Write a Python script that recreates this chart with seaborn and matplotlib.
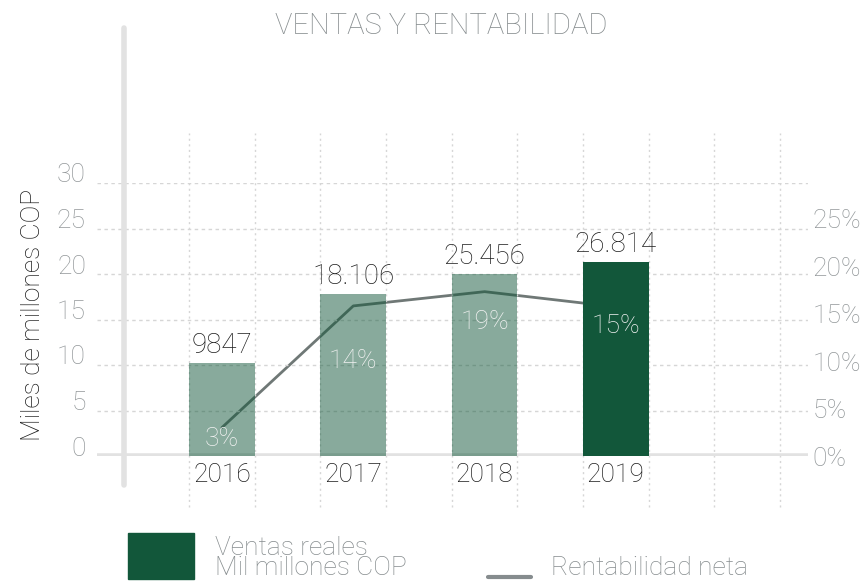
import matplotlib
matplotlib.use("Agg")
import matplotlib.pyplot as plt
import matplotlib.transforms as mtransforms
from matplotlib.patches import Rectangle
from matplotlib.lines import Line2D
import seaborn as sns
import pandas as pd

# ---- data ----
years = ["2016", "2017", "2018", "2019"]
sales_bar_height = [10.2, 17.8, 20.0, 21.3]          # bar heights as drawn (left axis)
sales_labels = ["9847", "18.106", "25.456", "26.814"]
profit_pct = [3.0, 15.8, 17.3, 15.7]                 # line values (right axis, %)
profit_labels = ["3%", "14%", "19%", "15%"]
left_ticks = [0, 5, 10, 15, 20, 25, 30]
right_ticks = [0, 5, 10, 15, 20, 25]

sns.set_style("white")
plt.rcParams["font.family"] = ["Roboto", "DejaVu Sans"]
plt.rcParams["font.weight"] = "light"

DARK = "#12573a"
GRAY_TXT = "#868c8e"
TICK_GRAY = "#929799"
GRID = "#d6d6d6"
AXLINE = "#e2e2e2"
TXT = "#1e1e1e"
FS = 19

W, H = 867, 581
fig = plt.figure(figsize=(W / 100, H / 100), dpi=100)
ax = fig.add_axes([97 / W, 1 - 456 / H, 711 / W, 273 / H])
ax2 = ax.twinx()
ax.set_zorder(ax2.get_zorder() + 1)
ax.patch.set_visible(False)

df = pd.DataFrame({"year": years, "sales": sales_bar_height})
sns.barplot(data=df, x="year", y="sales", hue="year", palette=[DARK] * 4,
            width=0.5, saturation=1, legend=False, ax=ax, zorder=3)
alphas = [0.5, 0.5, 0.5, 1.0]
for p, a in zip(ax.patches, alphas):
    p.set_alpha(a)
    p.set_edgecolor("none")

xpos = list(range(len(years)))
sns.lineplot(x=xpos, y=profit_pct, ax=ax2, color="#6f7876", linewidth=2, sort=False)

ax.set_xlim(-0.952, 4.463)
ax.set_ylim(0, 30)
ax2.set_ylim(0, 28.74)

# grid
ax.set_yticks(left_ticks)
ax.yaxis.grid(True, linestyle=(0, (2.5, 2.5)), color=GRID, linewidth=1, zorder=0)
vx = [-0.25 + 0.5 * k for k in range(10)]
ax.vlines(vx, -5.6, 35.5, colors=GRID, linestyles=(0, (1.5, 2.5)), linewidth=1,
          clip_on=False, zorder=0)
ax.axhline(0, color=AXLINE, linewidth=4, zorder=2)

for s in ax.spines.values():
    s.set_visible(False)
for s in ax2.spines.values():
    s.set_visible(False)

ax.set_xlabel("")
ax.set_ylabel("")
ax2.set_ylabel("")
ax.tick_params(axis="y", length=0, pad=8, labelsize=FS, labelcolor=TICK_GRAY)
ax.tick_params(axis="x", length=0, pad=5, labelsize=FS, labelcolor=TXT)
off = mtransforms.ScaledTranslation(0, 0.10, fig.dpi_scale_trans)
for lab in ax.get_yticklabels():
    lab.set_transform(lab.get_transform() + off)

ax2.set_yticks(right_ticks)
ax2.set_yticklabels([f"{t}%" for t in right_ticks])
ax2.tick_params(axis="y", length=0, pad=3, labelsize=FS, labelcolor=TICK_GRAY)

# value labels above bars
for i, (h, t) in enumerate(zip(sales_bar_height, sales_labels)):
    ax.annotate(t, (i, h), xytext=(0, 3), textcoords="offset points",
                ha="center", va="bottom", fontsize=20, color=TXT, zorder=5)

# percentage labels inside bars (positioned from the line values)
pct_offsets = [-8, -40, -22, -14]
for i, (v, t, o) in enumerate(zip(profit_pct, profit_labels, pct_offsets)):
    ax.annotate(t, (i, v), xycoords=ax2.transData, xytext=(0, o),
                textcoords="offset points", ha="center", va="center",
                fontsize=FS, color="#f2f2f2", zorder=6)

# vertical axis line (decor)
fig.add_artist(Line2D([124 / W, 124 / W], [1 - 28 / H, 1 - 485 / H], color=AXLINE,
                      linewidth=4, transform=fig.transFigure))

fig.text(33 / W, 1 - 315 / H, "Miles de millones COP", rotation=90, ha="center",
         va="center", fontsize=FS, color=TXT)
fig.text(441 / W, 1 - 26 / H, "VENTAS Y RENTABILIDAD", ha="center", va="center",
         fontsize=21, color=GRAY_TXT)

# legend
fig.add_artist(Rectangle((128 / W, 1 - 579 / H), 66 / W, 46 / H, color=DARK,
                         transform=fig.transFigure))
fig.text(215 / W, 1 - 558 / H, "Ventas reales\nMil millones COP", ha="left",
         va="center", fontsize=FS, color=GRAY_TXT, linespacing=0.82)
fig.add_artist(Line2D([488 / W, 531 / W], [1 - 577 / H, 1 - 577 / H], color=GRAY_TXT,
                      linewidth=3, transform=fig.transFigure))
fig.text(551 / W, 1 - 568 / H, "Rentabilidad neta", ha="left", va="center",
         fontsize=FS, color=GRAY_TXT)

fig.savefig("out.png", dpi=100)
